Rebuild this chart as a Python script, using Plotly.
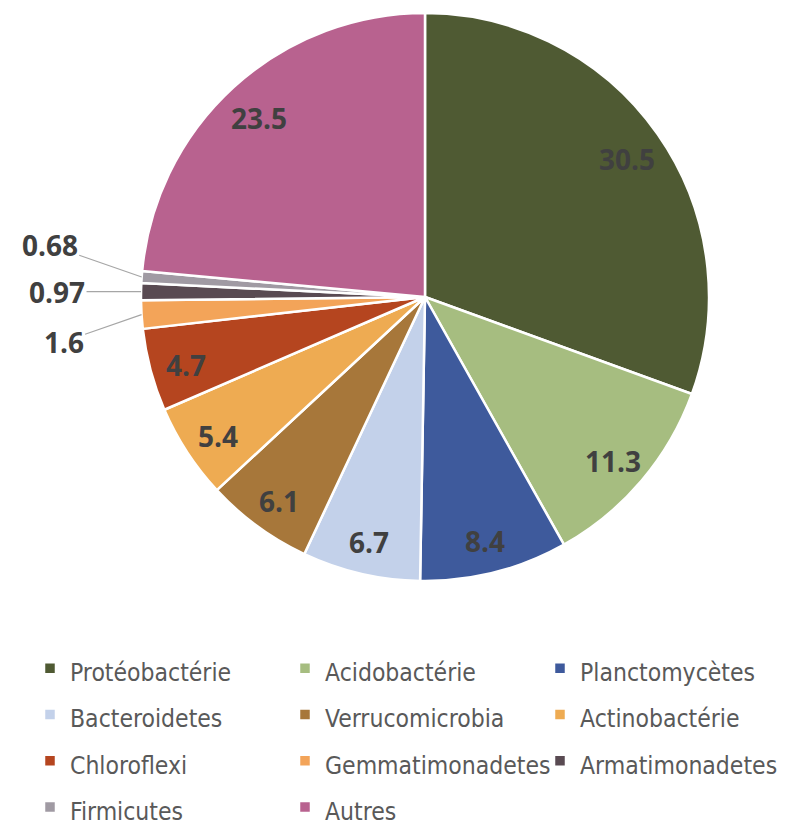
import math

import plotly.graph_objects as go

W, H = 785, 828
PAD = 8  # the page body margin shifts the figure by this many pixels

LABELS = [
    "Protéobactérie", "Acidobactérie", "Planctomycètes", "Bacteroidetes",
    "Verrucomicrobia", "Actinobactérie", "Chloroflexi", "Gemmatimonadetes",
    "Armatimonadetes", "Firmicutes", "Autres",
]
VALUES = [30.5, 11.3, 8.4, 6.7, 6.1, 5.4, 4.7, 1.6, 0.97, 0.68, 23.5]
VALUE_TEXT = ["30.5", "11.3", "8.4", "6.7", "6.1", "5.4", "4.7", "1.6", "0.97", "0.68", "23.5"]
COLORS = [
    "#4f5a33", "#a6bd80", "#3e5a9c", "#c3d1ea", "#a7773a", "#eeab52",
    "#b5451f", "#f3a459", "#594a52", "#a09aa3", "#b8628f",
]

# small slices get an outside label with a leader line (pixel offsets)
OUTSIDE = {"Gemmatimonadetes": (-78, 27), "Armatimonadetes": (-84, 0), "Firmicutes": (-92, -32)}

LABEL_FONT = "Open Sans, sans-serif"
LEGEND_FONT = "Liberation Sans Narrow, DejaVu Sans Condensed, sans-serif"
LABEL_COLOR = "#404040"


def to_paper(px, py):
    """window pixel -> paper coordinates (figure is offset by the page margin)"""
    return (px - PAD) / W, 1 - (py - PAD) / H


# pie geometry in window pixels
CX, CY, R = 425, 297, 284
x0, y0 = to_paper(CX - R, CY + R)
x1, y1 = to_paper(CX + R, CY - R)

fig = go.Figure(go.Pie(
    labels=[f"<span style='font-size:24.5px'>{l}</span>" for l in LABELS],
    values=VALUES, sort=False, direction="clockwise", rotation=0,
    marker=dict(colors=COLORS, line=dict(color="white", width=2.5)),
    textinfo="none", hoverinfo="label+value",
    domain=dict(x=[x0, x1], y=[y0, y1]),
))

# data labels, placed along each slice's bisector
total = sum(VALUES)
cum = 0.0
annotations = []
for lab, val, txt in zip(LABELS, VALUES, VALUE_TEXT):
    mid = (cum + val / 2) / total * 2 * math.pi
    cum += val
    font = dict(family=LABEL_FONT, size=28, color=LABEL_COLOR)
    if lab in OUTSIDE:
        ax_, ay_ = to_paper(CX + R * math.sin(mid), CY - R * math.cos(mid))
        ax, ay = OUTSIDE[lab]
        annotations.append(dict(
            x=ax_, y=ay_, xref="paper", yref="paper",
            text=f"<b>{txt}</b>", showarrow=True, arrowhead=0, arrowwidth=1.2,
            arrowcolor="#a6a6a6", ax=ax, ay=ay, standoff=0, font=font,
        ))
    else:
        rr = 0.87 * R
        tx, ty = to_paper(CX + rr * math.sin(mid), CY - rr * math.cos(mid))
        annotations.append(dict(
            x=tx, y=ty, xref="paper", yref="paper", xanchor="center", yanchor="middle",
            text=f"<b>{txt}</b>", showarrow=False, font=font, yshift=-4,
        ))

lx, ly = to_paper(30, 640)
fig.update_layout(
    width=W, height=H,
    paper_bgcolor="white", plot_bgcolor="white",
    margin=dict(t=0, r=0, b=0, l=0, autoexpand=False),
    annotations=annotations,
    showlegend=True,
    legend=dict(
        orientation="h", x=lx, xanchor="left", y=ly, yanchor="top",
        entrywidth=210, entrywidthmode="pixels", itemclick=False,
        font=dict(family=LEGEND_FONT, size=33.3, color="#595959"),
        traceorder="normal",
    ),
)

fig.write_html("out.html")
